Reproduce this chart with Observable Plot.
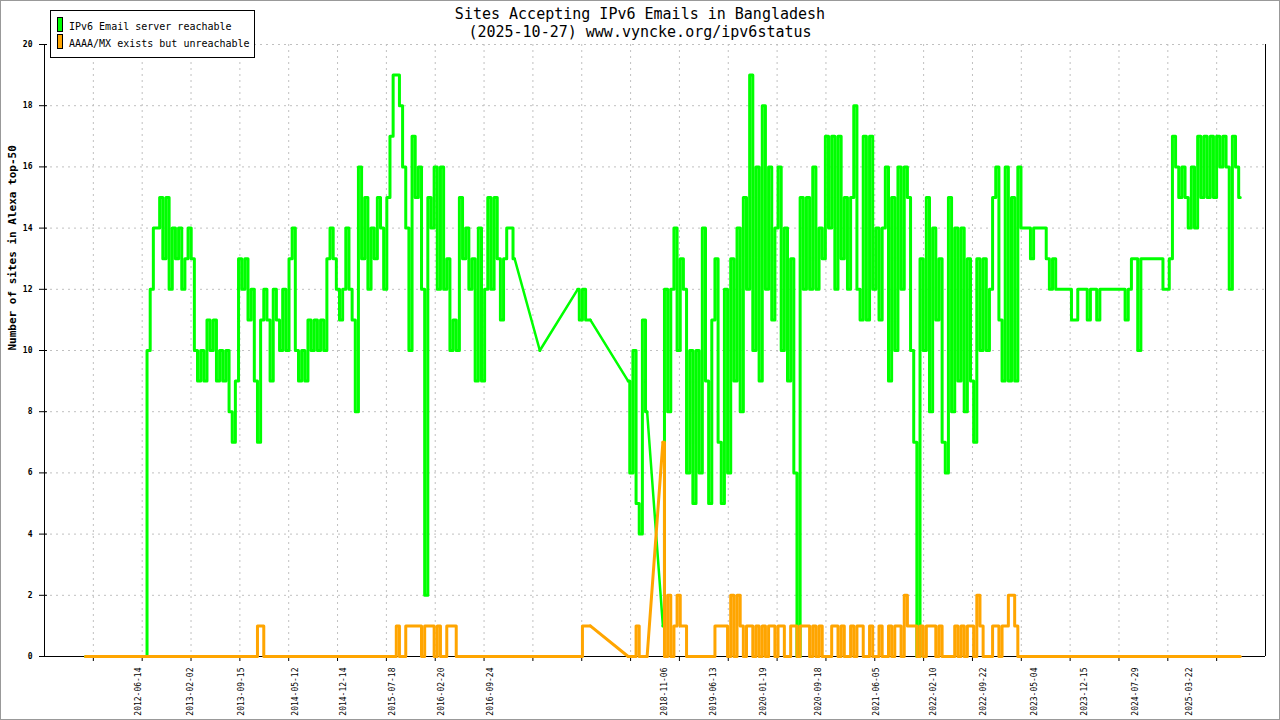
<!DOCTYPE html>
<html>
<head>
<meta charset="utf-8">
<script src="https://cdn.jsdelivr.net/npm/d3@7"></script>
<script src="https://cdn.jsdelivr.net/npm/@observablehq/plot@0.6"></script>
<style>
  body { margin: 0; background: #fff; }
  #wrap { position: relative; width: 1280px; height: 720px; overflow: hidden; font-family: "DejaVu Sans Mono", monospace; color: #000; }
  #frame { position: absolute; left: 0; top: 0; width: 1280px; height: 720px; box-sizing: border-box; border: 1px solid #999; pointer-events: none; }
  #title { position: absolute; left: 0; top: 5px; width: 1280px; text-align: center; font-size: 15px; line-height: 18px; }
  #chart { position: absolute; left: 0; top: 40px; }
  #legend { position: absolute; left: 50px; top: 10px; width: 205px; height: 48px; box-sizing: border-box; border: 1px solid #000; background: #fff; font-size: 10px; }
  #legend .sw { position: absolute; left: 6px; width: 6px; height: 15px; border: 1px solid #000; box-sizing: border-box; }
  #legend .lb { position: absolute; left: 18px; line-height: 12px; white-space: nowrap; }
</style>
</head>
<body>
<div id="wrap">
  <div id="title">Sites Accepting IPv6 Emails in Bangladesh<br>(2025-10-27) www.vyncke.org/ipv6status</div>
  <div id="chart"></div>
  <div id="legend">
    <div class="sw" style="top:6px;background:#00ff00"></div><div class="lb" style="top:10px">IPv6 Email server reachable</div>
    <div class="sw" style="top:23px;background:#ffa500"></div><div class="lb" style="top:27px">AAAA/MX exists but unreachable</div>
  </div>
  <div id="frame"></div>
</div>
<script>
// one sample every two weeks, null = no measurement
const startDate = "2011-10-25"
const stepDays = 14

const reachable = [
  0,0,0,0,0,0,0,0,0,0,
  0,0,0,0,0,0,0,0,0,0,
  10,12,14,14,15,13,15,12,14,13,
  14,12,13,14,13,10,9,10,9,11,
  10,11,9,10,9,10,8,7,9,13,
  12,13,11,12,9,7,11,12,11,9,
  12,11,10,12,10,13,14,10,9,10,
  9,11,10,11,10,11,10,13,14,13,
  12,11,12,14,12,11,8,16,13,15,
  12,14,13,15,14,12,15,17,19,19,
  18,16,14,10,17,15,16,12,2,15,
  14,16,12,16,12,13,10,11,10,15,
  13,14,12,13,9,14,9,12,15,12,
  15,13,11,13,14,14,13,null,null,null,
  null,null,null,null,10,null,null,null,null,null,
  null,null,null,null,null,null,12,11,12,11,
  11,null,null,null,null,null,null,null,null,null,
  null,null,9,6,10,5,4,11,8,null,
  null,null,null,1,12,8,12,14,10,13,
  12,6,10,5,10,6,14,9,5,11,
  13,7,5,12,6,13,9,14,8,15,
  12,19,10,16,9,18,12,16,11,14,
  16,10,14,9,13,6,0,15,12,15,
  12,16,12,14,13,17,14,17,12,17,
  13,15,12,15,18,12,11,17,11,17,
  12,14,11,14,16,9,15,10,16,12,
  16,15,10,7,0,13,10,15,8,14,
  11,13,7,6,15,8,14,9,14,8,
  13,9,7,13,10,13,10,12,15,16,
  11,9,16,9,15,9,16,14,14,14,
  13,14,14,14,14,13,12,13,12,12,
  12,12,12,11,11,12,12,12,11,12,
  12,11,12,12,12,12,12,12,12,12,
  11,12,13,13,10,13,13,13,13,13,
  13,13,12,12,13,17,16,15,16,15,
  14,16,14,17,15,17,15,17,15,17,
  16,17,16,12,17,16,15
]

const unreachable = [
  0,0,0,0,0,0,0,0,0,0,
  0,0,0,0,0,0,0,0,0,0,
  0,0,0,0,0,0,0,0,0,0,
  0,0,0,0,0,0,0,0,0,0,
  0,0,0,0,0,0,0,0,0,0,
  0,0,0,0,0,1,1,0,0,0,
  0,0,0,0,0,0,0,0,0,0,
  0,0,0,0,0,0,0,0,0,0,
  0,0,0,0,0,0,0,0,0,0,
  0,0,0,0,0,0,0,0,0,1,
  0,0,1,1,1,1,1,0,1,1,
  1,0,1,0,0,1,1,1,0,0,
  0,0,0,0,0,0,0,0,0,0,
  0,0,0,0,0,0,0,null,null,null,
  null,null,null,null,0,null,null,null,null,null,
  null,null,null,null,null,null,0,0,1,1,
  1,null,null,null,null,null,null,null,null,null,
  null,null,0,0,0,1,0,0,0,null,
  null,null,null,7,0,2,0,1,2,1,
  1,0,0,0,0,0,0,0,0,0,
  1,1,1,1,0,2,0,2,1,0,
  1,1,0,1,0,1,0,1,1,0,
  1,1,0,0,1,1,0,1,1,1,
  0,1,0,1,0,0,0,1,1,0,
  1,0,0,1,0,1,1,0,0,1,
  0,0,1,0,0,1,0,1,1,0,
  2,1,1,1,0,1,0,1,1,1,
  0,1,0,0,0,0,1,0,1,0,
  1,1,0,2,1,0,0,0,1,1,
  0,1,1,2,2,1,0,0,0,0,
  0,0,0,0,0,0,0,0,0,0,
  0,0,0,0,0,0,0,0,0,0,
  0,0,0,0,0,0,0,0,0,0,
  0,0,0,0,0,0,0,0,0,0,
  0,0,0,0,0,0,0,0,0,0,
  0,0,0,0,0,0,0,0,0,0,
  0,0,0,0,0,0,0
]

const tickLabels = [
  "2012-06-14", "2013-02-02", "2013-09-15", "2014-05-12", "2014-12-14",
  "2015-07-18", "2016-02-20", "2016-09-24", "2018-11-06", "2019-06-13",
  "2020-01-19", "2020-09-18", "2021-06-05", "2022-02-10", "2022-09-22",
  "2023-05-04", "2023-12-15", "2024-07-29", "2025-03-22"
]
const yTicks = [0, 2, 4, 6, 8, 10, 12, 14, 16, 18, 20]

const xDomain = [new Date("2011-04-26"), new Date("2026-02-24")]

const dates = reachable.map((_, i) => d3.utcDay.offset(new Date(startDate), i * stepDays))

// rows for the stepped line, plus straight segments across missing samples
function series(values) {
  const rows = dates.map((date, i) => ({date, value: values[i]}))
  const bridges = []
  let last = -1
  values.forEach((v, i) => {
    if (v == null) return
    if (last >= 0 && i - last > 1) {
      bridges.push({date: dates[last], value: values[last], seg: i})
      bridges.push({date: dates[i], value: v, seg: i})
    }
    last = i
  })
  return {rows, bridges}
}
const green = series(reachable)
const orange = series(unreachable)

// grid lines split the x range in 25 equal parts
const t0 = +xDomain[0], t1 = +xDomain[1]
const gridDates = d3.range(1, 25).map(k => new Date(t0 + k * (t1 - t0) / 25))
const labelDates = tickLabels.map(s => new Date(s))

const mono = "DejaVu Sans Mono, monospace"
const gridStyle = { stroke: "#c0c0c0", strokeOpacity: 1, strokeDasharray: "2,4" }

let chart = Plot.plot({
  width: 1280,
  height: 680,
  marginTop: 4,
  marginBottom: 64,
  marginLeft: 44,
  marginRight: 15,
  x: { type: "utc", domain: xDomain, label: null },
  y: { domain: [0, 20], label: null },
  style: { fontFamily: mono, background: "transparent", overflow: "visible" },
  marks: [
    Plot.gridY(yTicks.slice(1), gridStyle),
    Plot.gridX(gridDates, gridStyle),
    Plot.axisX(gridDates, { tickSize: 5, tickFormat: () => "", label: null, stroke: "black" }),
    Plot.axisX(labelDates, {
      tickSize: 0,
      tickPadding: 11,
      tickRotate: -90,
      tickFormat: d3.utcFormat("%Y-%m-%d"),
      fontSize: 8,
      label: null
    }),
    Plot.axisY(yTicks, { tickSize: 5, tickPadding: 7, fontSize: 8, fontWeight: "bold", label: null }),
    Plot.axisY(yTicks, { tickSize: -3, tickFormat: () => "", label: null }),
    Plot.text(["Number of sites in Alexa top-50"], {
      text: d => d,
      frameAnchor: "left",
      rotate: -90,
      dx: -32,
      fontSize: 11,
      fontWeight: "bold"
    }),
    Plot.ruleY([0], { stroke: "black" }),
    Plot.ruleX(xDomain, { stroke: "black" }),
    Plot.line(green.rows, { x: "date", y: "value", curve: "step", stroke: "#00ff00", strokeWidth: 3 }),
    Plot.line(green.bridges, { x: "date", y: "value", z: "seg", stroke: "#00ff00", strokeWidth: 2.5 }),
    Plot.line(orange.rows, { x: "date", y: "value", curve: "step", stroke: "#ffa500", strokeWidth: 3 }),
    Plot.line(orange.bridges, { x: "date", y: "value", z: "seg", stroke: "#ffa500", strokeWidth: 3 })
  ]
})

d3.select('#chart').append(() => chart)
</script>
</body>
</html>
